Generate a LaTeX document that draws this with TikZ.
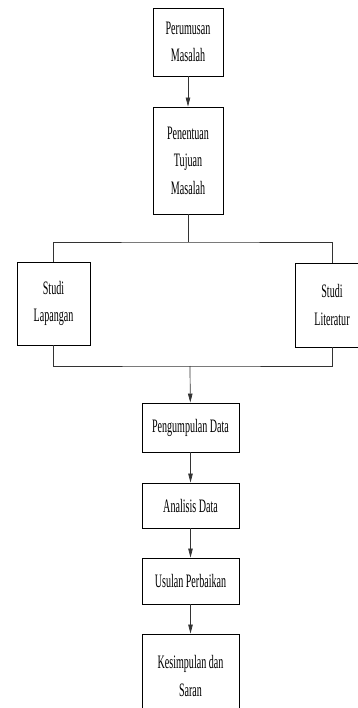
\documentclass[tikz,border=0pt]{standalone}
\usepackage{fontspec}
\setmainfont[FakeStretch=0.53]{Liberation Serif}
\usetikzlibrary{arrows.meta}
\begin{document}
\begin{tikzpicture}[x=1pt,y=-1pt,
  box/.style={draw=black,line width=0.9pt,fill=white,rectangle,inner sep=0pt,align=center,
    font=\fontsize{19}{27.5}\selectfont},
  conn/.style={line width=0.7pt,draw=black!80},
  arr/.style={conn,-{Triangle[length=9pt,width=4.5pt]}}]
\clip (0,0) rectangle (358,708);
\fill[white] (0,0) rectangle (358,708);
\node[box,minimum width=70pt,minimum height=68pt] (pm) at (188,42) {Perumusan\\Masalah};
\node[box,minimum width=70pt,minimum height=107pt] (pt) at (188,160.5) {Penentuan\\Tujuan\\Masalah};
\node[box,minimum width=73pt,minimum height=83pt] (sl) at (53.5,303.5) {Studi\\Lapangan};
\node[box,minimum width=73pt,minimum height=84pt] (sr) at (332,305) {Studi\\Literatur};
\node[box,minimum width=97pt,minimum height=49pt] (pd) at (190.5,427.5) {Pengumpulan Data};
\node[box,minimum width=97pt,minimum height=45pt] (ad) at (190.5,505.5) {Analisis Data};
\node[box,minimum width=97pt,minimum height=46pt] (up) at (190.5,581) {Usulan Perbaikan};
\node[box,minimum width=97pt,minimum height=84pt] (ks) at (190.5,676) {Kesimpulan dan\\Saran};
\coordinate (jt) at (188,242);
\coordinate (jb) at (190,366);
\draw[arr] (pm) -- (pt);
\draw[conn] (pt) -- (jt);
\draw[conn] (sl.north) |- (jt) -| (sr.north);
\draw[conn] (sl.south) |- (jb) -| (sr.south);
\draw[arr] (jb) -- (pd);
\draw[arr] (pd) -- (ad);
\draw[arr] (ad) -- (up);
\draw[arr] (up) -- (ks);
\end{tikzpicture}
\end{document}
